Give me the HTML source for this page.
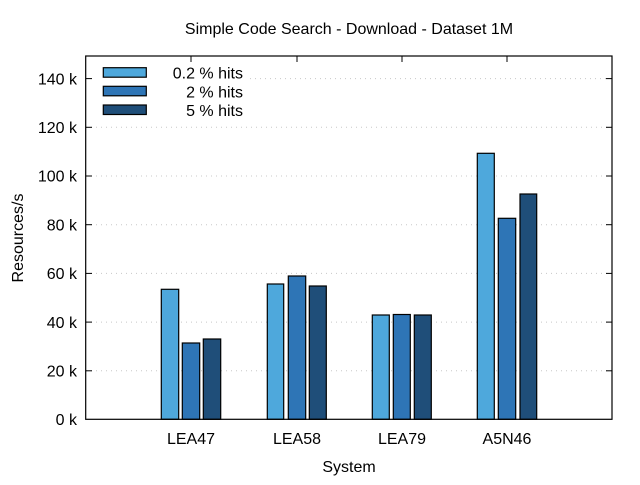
<!DOCTYPE html>
<html><head><meta charset="utf-8"><style>
body{margin:0;background:#fff}
svg text{font-family:"Liberation Sans",sans-serif;font-size:16px;fill:#000}
</style></head><body>
<svg width="640" height="480" xmlns="http://www.w3.org/2000/svg">
<g stroke="#c8c8c8" stroke-dasharray="1,4" stroke-width="1">
<line x1="86" y1="370.8" x2="612" y2="370.8"/>
<line x1="86" y1="322.1" x2="612" y2="322.1"/>
<line x1="86" y1="273.4" x2="612" y2="273.4"/>
<line x1="86" y1="224.7" x2="612" y2="224.7"/>
<line x1="86" y1="176" x2="612" y2="176"/>
<line x1="86" y1="127.3" x2="612" y2="127.3"/>
<line x1="250" y1="78.6" x2="612" y2="78.6"/>
</g>
<g stroke="#000" stroke-width="1.2">
<rect x="161.3" y="289.3" width="17.4" height="130" fill="#4ea8dc"/>
<rect x="182.3" y="343" width="17.4" height="76.3" fill="#2e75b6"/>
<rect x="203.3" y="339" width="17.4" height="80.3" fill="#1f4e79"/>
<rect x="267.3" y="284" width="16.4" height="135.3" fill="#4ea8dc"/>
<rect x="288.3" y="276" width="17.4" height="143.3" fill="#2e75b6"/>
<rect x="309.3" y="286" width="17" height="133.3" fill="#1f4e79"/>
<rect x="372.3" y="315" width="17" height="104.3" fill="#4ea8dc"/>
<rect x="393.3" y="314.5" width="17" height="104.8" fill="#2e75b6"/>
<rect x="414.3" y="315" width="17" height="104.3" fill="#1f4e79"/>
<rect x="477.3" y="153.3" width="17" height="266" fill="#4ea8dc"/>
<rect x="498.3" y="218.3" width="17.4" height="201" fill="#2e75b6"/>
<rect x="520" y="194" width="16.7" height="225.3" fill="#1f4e79"/>
</g>
<rect x="85.7" y="56" width="526.3" height="363.3" fill="none" stroke="#000" stroke-width="1.2"/>
<g stroke="#000" stroke-width="1">
<line x1="86" y1="370.8" x2="92" y2="370.8"/><line x1="606" y1="370.8" x2="612" y2="370.8"/>
<line x1="86" y1="322.1" x2="92" y2="322.1"/><line x1="606" y1="322.1" x2="612" y2="322.1"/>
<line x1="86" y1="273.4" x2="92" y2="273.4"/><line x1="606" y1="273.4" x2="612" y2="273.4"/>
<line x1="86" y1="224.7" x2="92" y2="224.7"/><line x1="606" y1="224.7" x2="612" y2="224.7"/>
<line x1="86" y1="176" x2="92" y2="176"/><line x1="606" y1="176" x2="612" y2="176"/>
<line x1="86" y1="127.3" x2="92" y2="127.3"/><line x1="606" y1="127.3" x2="612" y2="127.3"/>
<line x1="86" y1="78.6" x2="92" y2="78.6"/><line x1="606" y1="78.6" x2="612" y2="78.6"/>
<line x1="191" y1="56" x2="191" y2="62"/><line x1="297" y1="56" x2="297" y2="62"/>
<line x1="402" y1="56" x2="402" y2="62"/><line x1="507" y1="56" x2="507" y2="62"/>
</g>
<g text-anchor="end">
<text x="77" y="425">0 k</text>
<text x="77" y="376.5">20 k</text>
<text x="77" y="327.8">40 k</text>
<text x="77" y="279.1">60 k</text>
<text x="77" y="230.4">80 k</text>
<text x="77" y="181.7">100 k</text>
<text x="77" y="133">120 k</text>
<text x="77" y="84.3">140 k</text>
</g>
<g text-anchor="middle">
<text x="191" y="444">LEA47</text>
<text x="297" y="444">LEA58</text>
<text x="402" y="444">LEA79</text>
<text x="507" y="444">A5N46</text>
<text x="349" y="472">System</text>
<text x="349" y="34">Simple Code Search - Download - Dataset 1M</text>
<text transform="translate(23,238) rotate(-90)">Resources/s</text>
</g>
<g stroke="#000" stroke-width="1.2">
<rect x="103.3" y="67.7" width="43" height="9.5" fill="#4ea8dc"/>
<rect x="103.3" y="86.3" width="43" height="9.5" fill="#2e75b6"/>
<rect x="103.3" y="105" width="43" height="9.5" fill="#1f4e79"/>
</g>
<g text-anchor="end">
<text x="243" y="78.5">0.2 % hits</text>
<text x="243" y="97.5">2 % hits</text>
<text x="243" y="116">5 % hits</text>
</g>
</svg>
</body></html>
